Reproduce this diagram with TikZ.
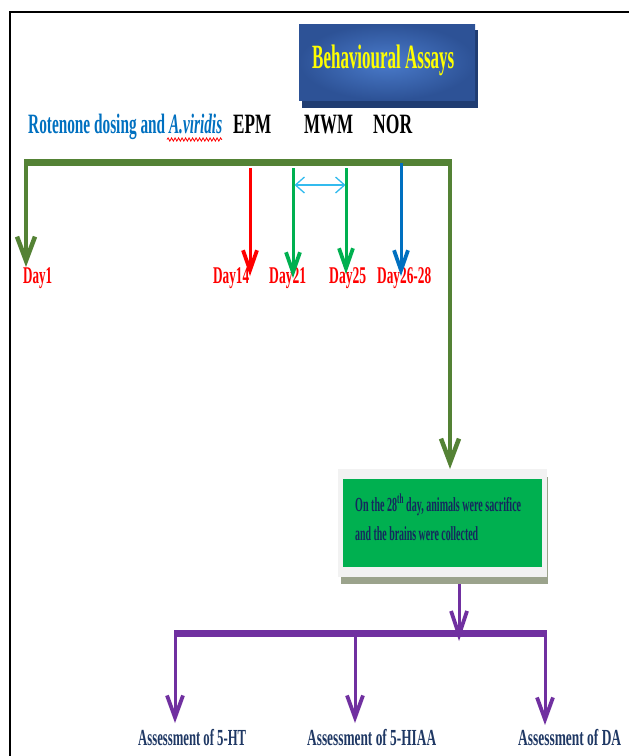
\documentclass[tikz,border=0pt]{standalone}
\usepackage{fontspec}
\setmainfont{Liberation Serif}
\usetikzlibrary{arrows.meta,decorations.pathmorphing}
\definecolor{cOlive}{HTML}{548235}
\definecolor{cRed}{HTML}{FF0000}
\definecolor{cGreen}{HTML}{00B050}
\definecolor{cBlue}{HTML}{0070C0}
\definecolor{cCyan}{HTML}{33BBEE}
\definecolor{cPurple}{HTML}{7030A0}
\definecolor{cNavy}{HTML}{1F3864}
\definecolor{cNavyTxt}{HTML}{14285E}
\definecolor{cBlueIn}{HTML}{4A7BCB}
\definecolor{cBlueOut}{HTML}{2D5296}
\definecolor{cBlueShadow}{HTML}{203D72}
\definecolor{cGrayBox}{HTML}{F2F2F2}
\definecolor{cGrayShadow}{HTML}{9BA38C}
\definecolor{cYellow}{HTML}{FFFF00}
\newcommand{\fitw}[3]{\resizebox{#1pt}{\height}{\fontsize{#2}{#2}\selectfont\bfseries #3}}
\begin{document}
\begin{tikzpicture}[x=1pt,y=-1pt,
  txt/.style={inner sep=0pt, anchor=base west},
  oliveline/.style={cOlive, line width=4pt, -{Straight Barb[length=24pt,width=18pt,line width=4.5pt]}},
  dayarrow/.style={line width=3pt, -{Straight Barb[length=20pt,width=14pt,line width=3.8pt]}},
  purparrow/.style={cPurple, line width=3pt, -{Straight Barb[length=22pt,width=16pt,line width=3.8pt]}}]
\useasboundingbox (0,0) rectangle (629,756);
% frame
\draw[line width=2.5pt] (10,756) -- (10,12) -- (629,12);
% Behavioural Assays box
\fill[cBlueShadow] (302,30) rectangle (478,108);
\shade[inner color=cBlueIn, outer color=cBlueOut] (299,24) rectangle (475,100);
\node[txt, text=cYellow] (ba) at (312,68) {\fitw{142}{34}{Behavioural Assays}};
% header labels
\node[txt, text=cBlue] (rot) at (28,133) {\fitw{194}{28}{Rotenone dosing and \textit{A.viridis}}};
\draw[red, line width=0.8pt, decorate, decoration={snake, amplitude=1.6pt, segment length=3.5pt}] (167,139.5) -- (222,139.5);
\node[txt] (epm) at (233,133) {\fitw{38}{28}{EPM}};
\node[txt] (mwm) at (304,133) {\fitw{49}{28}{MWM}};
\node[txt] (nor) at (373,133) {\fitw{39}{28}{NOR}};
% day labels
\node[txt, text=cRed] (d1) at (23,283) {\fitw{29}{24}{Day1}};
\node[txt, text=cRed] (d14) at (213,283) {\fitw{36}{24}{Day14}};
\node[txt, text=cRed] (d21) at (269,283) {\fitw{37}{24}{Day21}};
\node[txt, text=cRed] (d25) at (329,283) {\fitw{37}{24}{Day25}};
\node[txt, text=cRed] (d2628) at (377,283) {\fitw{54}{24}{Day26-28}};
% coordinates
\coordinate (barL) at (24,162);
\coordinate (barR) at (452,162);
\coordinate (s1) at (26,162);  \coordinate (e1) at (26,267);
\coordinate (s2) at (450,162); \coordinate (e2) at (450,469);
\coordinate (sr) at (250,168); \coordinate (er) at (250,276);
\coordinate (sg1) at (293,168); \coordinate (eg1) at (293,278);
\coordinate (sg2) at (346,168); \coordinate (eg2) at (346,274);
\coordinate (sb) at (401,163); \coordinate (eb) at (401,276);
\coordinate (c1) at (294.5,185); \coordinate (c2) at (345.5,185);
% olive timeline
\draw[cOlive, line width=7pt] (barL) -- (barR);
\draw[oliveline] (s1) -- (e1);
\draw[oliveline] (s2) -- (e2);
% assay arrows
\draw[dayarrow, cRed] (sr) -- (er);
\draw[dayarrow, cGreen] (sg1) -- (eg1);
\draw[dayarrow, cGreen] (sg2) -- (eg2);
\draw[dayarrow, cBlue] (sb) -- (eb);
\draw[cCyan, line width=1.3pt, {Straight Barb[length=9pt,width=16pt]}-{Straight Barb[length=9pt,width=16pt]}] (c1) -- (c2);
% sacrifice box
\fill[cGrayShadow] (341,477) rectangle (548,584);
\fill[cGrayBox] (338,469) rectangle (547,577);
\fill[cGreen] (343,479) rectangle (542,567);
\node[txt, text=cNavyTxt] (l1) at (355,511) {\fitw{166}{20}{On the 28\textsuperscript{th} day, animals were sacrifice}};
\node[txt, text=cNavyTxt] (l2) at (355,540) {\fitw{123}{20}{and the brains were collected}};
% purple tree
\coordinate (ps) at (459,584); \coordinate (pe) at (459,641);
\coordinate (pbL) at (174,633); \coordinate (pbR) at (547,633);
\coordinate (q1) at (175,633); \coordinate (r1) at (175,723);
\coordinate (q2) at (355,633); \coordinate (r2) at (355,723);
\coordinate (q3) at (545,633); \coordinate (r3) at (545,725);
\draw[cPurple, line width=7pt] (pbL) -- (pbR);
\draw[cPurple, line width=3pt, -{Straight Barb[length=24pt,width=16pt,line width=3.8pt]}] (ps) -- (pe);
\draw[purparrow] (q1) -- (r1);
\draw[purparrow] (q2) -- (r2);
\draw[purparrow] (q3) -- (r3);
% assessment labels
\node[txt, text=cNavy] (a1) at (138,745) {\fitw{108}{23}{Assessment of 5-HT}};
\node[txt, text=cNavy] (a2) at (307,745) {\fitw{129}{23}{Assessment of 5-HIAA}};
\node[txt, text=cNavy] (a3) at (518,745) {\fitw{103}{23}{Assessment of DA}};
\end{tikzpicture}
\end{document}
